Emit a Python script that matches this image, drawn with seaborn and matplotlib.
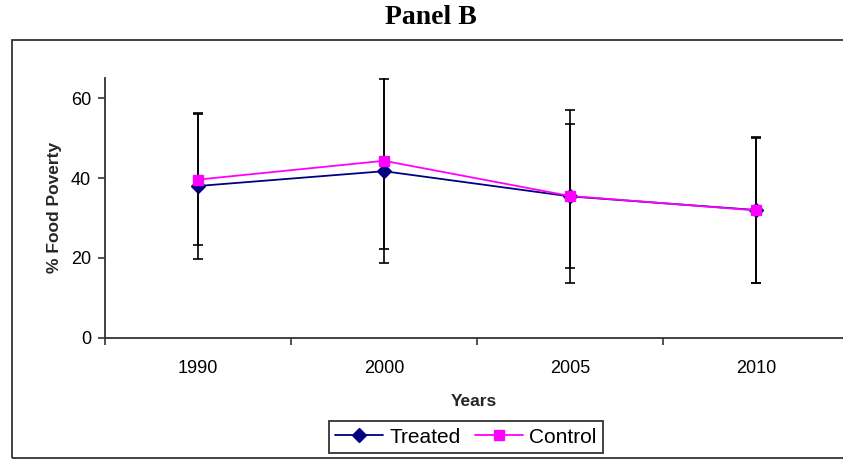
import numpy as np
import pandas as pd
import matplotlib
matplotlib.use("Agg")
import matplotlib.pyplot as plt
import seaborn as sns
from matplotlib.patches import Rectangle
from matplotlib.ticker import FixedLocator

years = ["1990", "2000", "2005", "2010"]
treated = [38.0, 41.7, 35.4, 32.0]
control = [39.6, 44.3, 35.5, 31.9]
treated_err = [18.2, 23.0, 21.6, 18.2]
control_err = [16.3, 22.1, 18.1, 18.1]
groups = ["Treated", "Control"]
colors = {"Treated": "#000080", "Control": "#FF00FF"}

sns.set_style("white")
plt.rcParams["font.family"] = ["Liberation Sans", "DejaVu Sans"]
plt.rcParams["text.color"] = "black"
plt.rcParams["xtick.color"] = "black"
plt.rcParams["ytick.color"] = "black"

df = pd.DataFrame({
    "Year": years * 2,
    "value": treated + control,
    "Group": ["Treated"] * len(years) + ["Control"] * len(years),
})

fig = plt.figure(figsize=(8.43, 4.61), dpi=100)
ax = fig.add_axes([105 / 843, 1 - 338 / 461, 1 - 105 / 843, (338 - 78) / 461])

x = np.arange(len(years))
ax.errorbar(x, treated, yerr=treated_err, fmt="none", ecolor="black",
            elinewidth=1.2, capsize=3.6, capthick=1.2, zorder=1)
ax.errorbar(x, control, yerr=control_err, fmt="none", ecolor="black",
            elinewidth=1.2, capsize=3.6, capthick=1.2, zorder=1)

sns.pointplot(data=df, x="Year", y="value", hue="Group", order=years,
              hue_order=groups, palette=colors, markers=["D", "s"],
              errorbar=None, dodge=False, ax=ax,
              linewidth=1.3, markersize=7, zorder=3)

ax.set_xlim(-0.5, (843 - 105) / 186 - 0.5)
ax.set_ylim(0, 65)
ax.set_yticks([0, 20, 40, 60])
ax.set_xticks(x)
ax.set_xticklabels(years)
ax.xaxis.set_minor_locator(FixedLocator([-0.5, 0.5, 1.5, 2.5, 3.5]))
ax.tick_params(axis="x", which="major", length=0, pad=16, labelsize=13)
ax.tick_params(axis="x", which="minor", length=5, width=1.2, direction="out",
               color="#333333", bottom=True)
ax.tick_params(axis="y", length=5, width=1.2, direction="out", color="#333333",
               labelsize=13, pad=5, left=True)

for s in ["top", "right"]:
    ax.spines[s].set_visible(False)
for s in ["left", "bottom"]:
    ax.spines[s].set_color("#333333")
    ax.spines[s].set_linewidth(1.3)

ax.set_xlabel("Years", fontsize=12.5, fontweight="bold", labelpad=12)
ax.set_ylabel("% Food Poverty", fontsize=12.5, fontweight="bold")
ax.yaxis.set_label_coords((62 - 105) / 738, (338 - 207) / (338 - 78))

leg = ax.legend(loc="center", bbox_to_anchor=(466 / 843, 1 - 437 / 461),
                bbox_transform=fig.transFigure, ncol=2, frameon=True,
                fontsize=15, handlelength=2.3, handletextpad=0.3,
                columnspacing=0.7, borderpad=0.3, fancybox=False)
leg.get_frame().set_edgecolor("black")
leg.get_frame().set_linewidth(1.3)

fig.text(431 / 843, 1 - 17 / 461, "Panel B", ha="center", va="center",
         fontsize=20, fontweight="bold", family=["Liberation Serif", "DejaVu Serif"])

fig.patches.append(Rectangle((12 / 843, 1 - 458 / 461), 1.0, (458 - 40) / 461,
                             transform=fig.transFigure, fill=False,
                             edgecolor="#333333", linewidth=1.3))

fig.savefig("out.png", dpi=100)
